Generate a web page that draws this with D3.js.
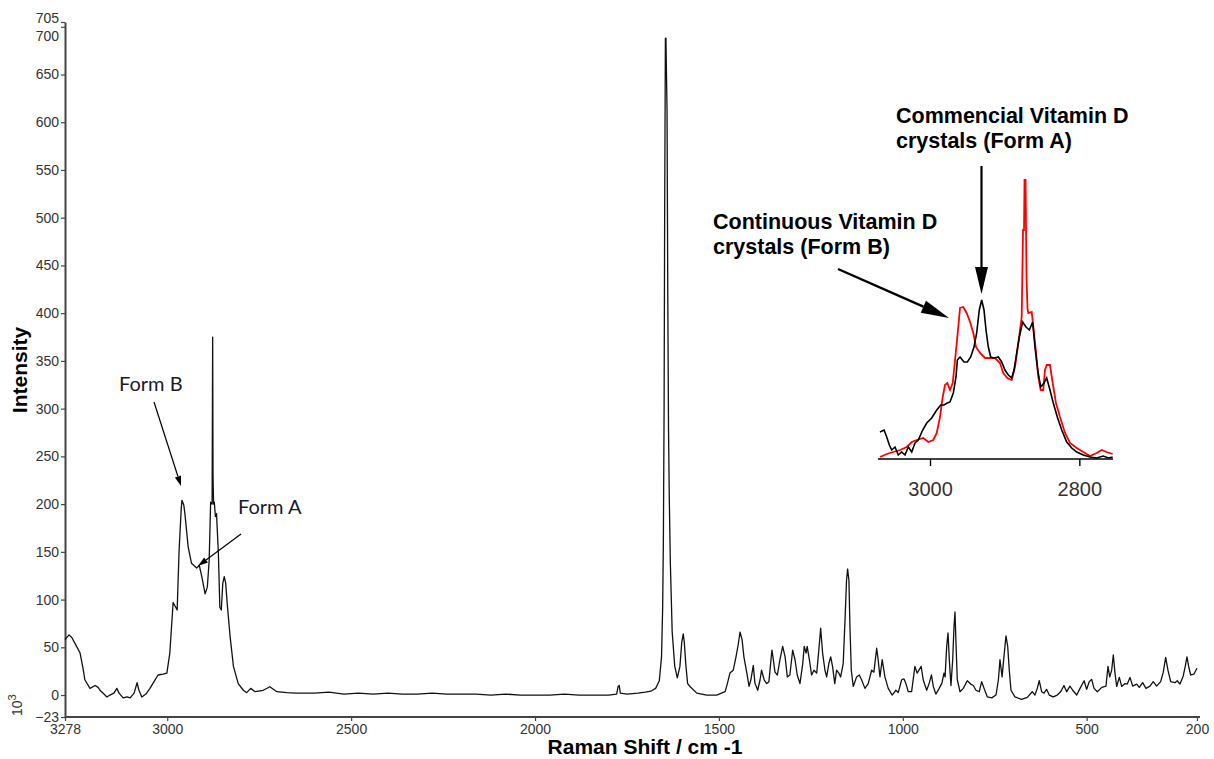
<!DOCTYPE html>
<html>
<head>
<meta charset="utf-8">
<script src="https://cdn.jsdelivr.net/npm/d3@7"></script>
<style>
  html, body { margin: 0; padding: 0; background: #fff; }
  svg { display: block; }
  .tick text { font-family: "Liberation Sans", Arial, sans-serif; fill: #333; }
</style>
</head>
<body>
<div id="chart"></div>
<script>
// main spectrum: Raman shift (cm-1) and intensity (x10^3)
const shift = [
  3278, 3267, 3259, 3248, 3237, 3229, 3224, 3210, 3196, 3188, 3183, 3172, 3164, 3156, 3145, 3137, 3131, 3120,
  3109, 3101, 3090, 3082, 3077, 3069, 3058, 3047, 3036, 3025, 3011, 3001, 2993, 2984, 2977, 2973, 2968, 2962,
  2960, 2955, 2952, 2943, 2934, 2920, 2913, 2906, 2897, 2891, 2886, 2882, 2878, 2876.5, 2875.5, 2874, 2872,
  2869, 2866, 2861, 2857, 2853, 2849, 2845, 2841, 2837, 2829, 2820, 2807, 2793, 2784, 2773, 2761, 2739, 2721,
  2702, 2675, 2650, 2600, 2560, 2520, 2480, 2440, 2400, 2360, 2320, 2280, 2240, 2200, 2160, 2120, 2080, 2040,
  2000, 1960, 1920, 1880, 1840, 1800, 1778, 1774, 1771, 1768, 1750, 1720, 1700, 1685, 1672, 1662, 1656, 1653,
  1651, 1649, 1647.5, 1645.5, 1644, 1641, 1639, 1637, 1635, 1632, 1627, 1620, 1613, 1606, 1601, 1597, 1594,
  1590, 1585, 1578, 1560, 1533, 1506, 1483, 1477, 1470, 1461, 1453.5, 1447, 1442.6, 1437, 1432, 1424, 1418,
  1413, 1406.5, 1402, 1394.5, 1388, 1384, 1377, 1370, 1364, 1358.4, 1355.7, 1352, 1347.5, 1341, 1334, 1326.6,
  1320, 1314, 1307, 1299.4, 1293, 1287, 1279.6, 1272, 1268, 1263, 1260, 1254, 1248, 1241.5, 1234, 1229,
  1223.3, 1218, 1211.6, 1207, 1201, 1196, 1191, 1185, 1180, 1174, 1169, 1162, 1157, 1153, 1150, 1146.4,
  1143.7, 1140, 1134.7, 1125.5, 1118.4, 1112, 1103, 1094, 1084.7, 1078.5, 1071, 1067, 1062, 1056, 1048.6,
  1039.6, 1028.7, 1018.7, 1012.4, 1003, 997, 991.5, 985, 976, 967, 961, 950, 944.5, 935, 928, 922, 917, 910,
  901, 893.6, 888, 885, 880.6, 877, 873.5, 869, 864.3, 860.7, 858, 855.3, 851.8, 844.4, 835.5, 824.6, 815.4,
  808.3, 801, 792, 785.5, 779, 770, 758, 746.6, 740, 735.7, 730, 725, 719.4, 714.7, 710.4, 705.8, 695, 677,
  661.5, 648, 640.6, 634.3, 629, 622.4, 616, 609, 601.7, 591, 580, 570.7, 561.7, 554.4, 545.4, 538, 527, 518,
  507, 500, 493, 486.4, 480, 471, 459, 447.5, 442, 437.4, 432, 427.6, 423, 418.4, 411.3, 404.8, 395.8, 389.6,
  382.2, 374.9, 364, 357, 347.7, 338.8, 328, 319, 309.7, 298.8, 291.7, 285.2, 279, 271.6, 260, 253.7, 246.3,
  237.4, 232, 227.3, 222.7, 217.2, 208.2, 200
];
const intensity = [
  58, 63, 60, 52, 44, 28, 16, 7, 10, 8, 5, 1, -2, 0, 2, 7, 2, -3,
  -2, -3, 2, 13, 5, -2, 1, 7, 14, 21, 22, 23, 44, 97, 92, 89, 149, 195,
  204, 199, 190, 155, 138, 133, 136, 124, 106, 113, 141, 202, 200, 375, 230, 200, 202,
  187, 190, 149, 92, 89, 117, 124, 117, 96, 61, 30, 12, 5, 2.5, 7, 3.5, 5, 8.7,
  3.5, 2.5, 2, 2, 3, 1, 2, 1, 2, 1, 1, 2, 1, 1, 1, 0, 1, 0,
  0, 0, 1, 0, 0, 0, 1, 9, 10, 2, 1, 2, 3, 4, 7, 15, 40, 90,
  160, 300, 500, 688, 688, 612, 420, 280, 209, 138, 66, 30, 18, 30, 55, 64, 55,
  32, 12, 8.7, 2, 0, 0, 3.5, 12, 23, 26, 40, 54, 66, 58, 40, 23, 9,
  16, 31, 12.5, 5, 16, 26, 16, 12, 14, 37, 47, 37, 24, 21, 37, 51,
  40, 19, 21, 47, 37, 21, 12, 33, 51, 44, 51, 37, 21, 26, 23, 44,
  70, 44, 26, 19, 33, 40, 30, 12, 26, 23, 19, 33, 79, 120, 132, 120,
  72, 26, 9, 19, 21, 16, 7, 12, 26, 24, 49, 37, 19, 37, 19,
  7, 0, 5, 2.5, 16, 17, 12, 3.5, 3.5, 30, 23, 30, 16, 5, 12.5, 21, 9, 1,
  7, 12.5, 23, 19, 51, 65, 37, 10, 37, 72, 87, 54, 16, 3.5, 7, 15, 11.5,
  10, 5, 3.5, 14, 7, -2, -3, 0, 16, 37, 19, 40, 62, 51, 26, 5, -2, -4.5,
  -2.5, 3.5, 0, 7, 15, 3.5, 2, 6, 0, -2, 0, 3.5, 10, 3.5, 9.4, 5, 0, 7,
  15, 6, 14, 16.4, 7, 3.5, 8, 9.4, 30, 19, 26, 42, 23, 9, 18.5, 9, 12, 11.5,
  18.5, 9.4, 11.5, 8, 13, 7, 9.4, 14, 9.4, 14, 24, 39.5, 26, 14, 13, 15, 11.5,
  20, 30, 40, 30, 21, 22, 28
];

// inset: commercial crystals (Form A, black) and continuous crystals (Form B, red)
const insetShiftA = [
  3067, 3061.6, 3058, 3054.5, 3051.3, 3046.9, 3042.5, 3037.9, 3033.5, 3029.1, 3024.5, 3020.1, 3015.7, 3009.8,
  3004.4, 2997.7, 2991, 2985.7, 2981.3, 2976.8, 2973.2, 2968.8, 2965.2, 2963.4, 2959.8, 2954.5, 2950, 2945.5,
  2941.1, 2937.5, 2934, 2930.8, 2927.7, 2925, 2921.9, 2918.7, 2914.3, 2908.5, 2904, 2899.6, 2895.1, 2890.6,
  2887.5, 2883.9, 2880.4, 2875.9, 2871.4, 2867, 2862.5, 2859.4, 2855.8, 2851.8, 2847.3, 2843.7, 2839.3, 2834.9,
  2829.5, 2823.6, 2816.9, 2810.2, 2803.5, 2794.7, 2785.7, 2776.8, 2767.9, 2761.2, 2755.3
];
const insetA = [
  27, 29, 22, 14, 9, 12, 4, 7, 4, 12, 7, 16, 19, 29,
  36, 41, 49, 54, 54, 56, 57, 66, 82, 99, 102, 97, 97, 102,
  112, 126, 149, 159, 149, 129, 112, 102, 101, 102, 97, 89, 84, 81,
  89, 106, 122, 137, 132, 129, 137, 112, 89, 72, 76, 81, 69, 56,
  42, 29, 17, 11, 7, 4, 2, 1, 3, 1, 2
];
const insetShiftB = [
  3067, 3058, 3049.1, 3040.2, 3031.2, 3024.5, 3017.8, 3009, 3002.3, 2995.6, 2991, 2986.6, 2983, 2979.9,
  2976.8, 2973.2, 2969.6, 2966.5, 2963.4, 2959.8, 2955.4, 2950.9, 2946.4, 2942, 2938.4, 2933, 2926.3, 2919.6,
  2913, 2906.3, 2901.8, 2896.5, 2890.6, 2886.2, 2881.7, 2877.2, 2875.4, 2874.1, 2873.4, 2872, 2870.7, 2869.4,
  2868.3, 2863.8, 2861.6, 2858.4, 2854.9, 2851.8, 2848.3, 2846, 2843.7, 2839.3, 2835.7, 2831.3, 2825.9, 2819.2,
  2812.5, 2803.5, 2794.7, 2785.7, 2776.8, 2770.1, 2763.4, 2755.3
];
const insetB = [
  2, 5, 7, 9, 12, 17, 19, 21, 17, 19, 26, 42, 62, 74,
  76, 69, 76, 99, 122, 151, 152, 146, 137, 126, 112, 106, 101, 101,
  101, 96, 86, 81, 79, 92, 116, 142, 229, 229, 279, 279, 180, 150,
  146, 147, 132, 109, 82, 69, 69, 89, 94, 94, 76, 56, 42, 26,
  16, 11, 7, 3, 6, 9, 7, 5
];

const xTicks = [3278, 3000, 2500, 2000, 1500, 1000, 500, 200];
const yTicks = [-23, 0, 50, 100, 150, 200, 250, 300, 350, 400, 450, 500, 550, 600, 650, 700, 705];
const insetTicks = [3000, 2800];

const W = 1214, H = 759;
const svg = d3.select("#chart").append("svg")
  .attr("width", W).attr("height", H)
  .style("font-family", "'Liberation Sans', Arial, sans-serif");

const x = d3.scaleLinear().domain([3278, 200]).range([65, 1197]);
const y = d3.scaleLinear().domain([-23, 705]).range([717, 22]);

// axes
const xAxis = svg.append("g")
  .attr("transform", `translate(0,${y(-23)})`)
  .call(d3.axisBottom(x).tickValues(xTicks).tickFormat(d3.format("d")).tickSize(4).tickSizeOuter(0).tickPadding(3));
const yAxis = svg.append("g")
  .attr("transform", `translate(${x(3278)},0)`)
  .call(d3.axisLeft(y).tickValues(yTicks).tickSize(4).tickSizeOuter(0).tickPadding(2));

[xAxis, yAxis].forEach(g => {
  g.select(".domain").attr("stroke", "#444").attr("stroke-width", 2);
  g.selectAll(".tick line").attr("stroke", "#444").attr("stroke-width", 1.2);
  g.selectAll(".tick text").style("font-size", "14px");
});
xAxis.select(".domain").attr("d", `M${x(3278)},0H${x(200) + 3}`);
// 700 and 705 sit almost on top of each other: push the labels apart
yAxis.selectAll(".tick text").filter(d => d === 700).attr("dy", "1.0em");
yAxis.selectAll(".tick text").filter(d => d === 705).attr("dy", "0.05em");

// spectrum
const line = d3.line().x(d => x(d[0])).y(d => y(d[1]));
svg.append("path")
  .datum(d3.zip(shift, intensity))
  .attr("fill", "none")
  .attr("stroke", "#111")
  .attr("stroke-width", 1.3)
  .attr("stroke-linejoin", "round")
  .attr("d", line);

// axis titles
svg.append("text")
  .attr("x", 645).attr("y", 754)
  .attr("text-anchor", "middle")
  .style("font-size", "21px").style("font-weight", "bold")
  .text("Raman Shift / cm -1");

svg.append("text")
  .attr("transform", "translate(27,370) rotate(-90)")
  .attr("text-anchor", "middle")
  .style("font-size", "21px").style("font-weight", "bold")
  .text("Intensity");

const exp = svg.append("text")
  .attr("transform", "translate(22,716) rotate(-90)")
  .style("font-size", "14px").attr("fill", "#333");
exp.append("tspan").text("10");
exp.append("tspan").attr("dy", "-6").style("font-size", "11px").text("3");

// inset
const xi = d3.scaleLinear().domain([3067, 2755.3]).range([880, 1112.7]);
const yi = d3.scaleLinear().domain([0, 279]).range([459, 180]);

const inset = svg.append("g");
const insetAxis = inset.append("g")
  .attr("transform", `translate(0,${yi(0)})`)
  .call(d3.axisBottom(xi).tickValues(insetTicks).tickFormat(d3.format("d")).tickSize(7).tickSizeOuter(0).tickPadding(16));
insetAxis.select(".domain").attr("stroke", "#000").attr("stroke-width", 1.6).attr("d", `M878,0H1113`);
insetAxis.selectAll(".tick line").attr("stroke", "#000").attr("stroke-width", 1.4);
insetAxis.selectAll(".tick text").style("font-size", "20px").attr("fill", "#111");

const iline = d3.line().x(d => xi(d[0])).y(d => yi(d[1]));
inset.append("path")
  .datum(d3.zip(insetShiftB, insetB))
  .attr("fill", "none").attr("stroke", "#ff0000").attr("stroke-width", 1.8)
  .attr("d", iline);
inset.append("path")
  .datum(d3.zip(insetShiftA, insetA))
  .attr("fill", "none").attr("stroke", "#000").attr("stroke-width", 1.6)
  .attr("d", iline);

// annotations
function arrow(x1, y1, x2, y2, len, half, width) {
  const a = Math.atan2(y2 - y1, x2 - x1);
  const bx = x2 - len * Math.cos(a), by = y2 - len * Math.sin(a);
  svg.append("line")
    .attr("x1", x1).attr("y1", y1).attr("x2", bx).attr("y2", by)
    .attr("stroke", "#000").attr("stroke-width", width);
  const p = [
    [x2, y2],
    [bx + half * Math.sin(a), by - half * Math.cos(a)],
    [bx - half * Math.sin(a), by + half * Math.cos(a)]
  ];
  svg.append("path").attr("d", "M" + p.join("L") + "Z").attr("fill", "#000");
}

arrow(981.5, 166, 981.5, 294, 27, 6.5, 2.2);
arrow(838, 269, 949, 318, 28, 6.5, 2.4);
arrow(154, 402, 181, 486, 10, 3.2, 1.2);
arrow(241, 534, 198, 566, 10, 3.2, 1.2);

const bold = [
  ["Commencial Vitamin D", 896, 123],
  ["crystals (Form A)", 896, 148],
  ["Continuous Vitamin D", 713, 229],
  ["crystals (Form B)", 713, 254]
];
bold.forEach(([t, tx, ty]) => {
  svg.append("text").attr("x", tx).attr("y", ty)
    .style("font-size", "21.5px").style("font-weight", "bold").attr("fill", "#000")
    .text(t);
});

[["Form B", 119, 391], ["Form A", 238, 514]].forEach(([t, tx, ty]) => {
  svg.append("text").attr("x", tx).attr("y", ty)
    .style("font-family", "Lato, 'Open Sans', sans-serif").style("font-size", "20px")
    .attr("fill", "#1a1a2a")
    .text(t);
});
</script>
</body>
</html>
